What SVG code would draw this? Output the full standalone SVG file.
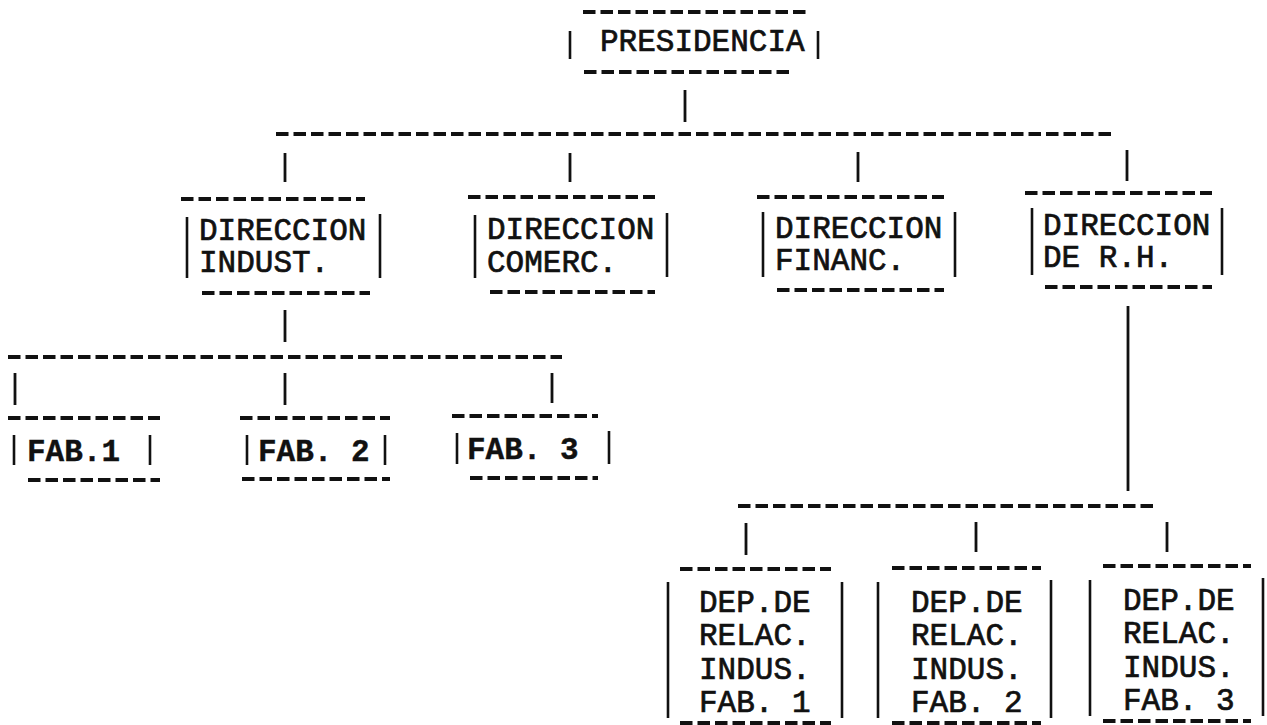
<svg xmlns="http://www.w3.org/2000/svg" width="1267" height="725" viewBox="0 0 1267 725">
<style>
.d{stroke:#111;stroke-width:3.8;stroke-dasharray:12.5 5;fill:none}
.p{stroke:#111;stroke-width:2.6;fill:none}
.c{stroke:#111;stroke-width:2.8;fill:none}
text{font-family:"Liberation Mono","Courier New",monospace;font-size:31px;fill:#111;stroke:#111;stroke-width:0.7}
.b{font-weight:bold;stroke-width:0.4}
</style>
<rect width="1267" height="725" fill="#fff"/>
<g id="connectors">
<line class="c" x1="685" y1="90" x2="685" y2="122"/>
<line class="d" x1="276" y1="134" x2="1116" y2="134"/>
<line class="c" x1="285" y1="153" x2="285" y2="182"/>
<line class="c" x1="570" y1="153" x2="570" y2="182"/>
<line class="c" x1="858" y1="152" x2="858" y2="182"/>
<line class="c" x1="1127" y1="150" x2="1127" y2="181"/>
<line class="c" x1="285" y1="310" x2="285" y2="342"/>
<line class="d" x1="8" y1="357" x2="562" y2="357"/>
<line class="c" x1="15" y1="373" x2="15" y2="405"/>
<line class="c" x1="285" y1="373" x2="285" y2="405"/>
<line class="c" x1="552" y1="373" x2="552" y2="403"/>
<line class="c" x1="1128" y1="306" x2="1128" y2="491"/>
<line class="d" x1="738" y1="506" x2="1157" y2="506"/>
<line class="c" x1="746" y1="523" x2="746" y2="555"/>
<line class="c" x1="976" y1="522" x2="976" y2="552"/>
<line class="c" x1="1167" y1="522" x2="1167" y2="552"/>
</g>
<g id="presidencia">
<line class="d" x1="583" y1="12" x2="807" y2="12"/>
<line class="p" x1="570" y1="31" x2="570" y2="59"/>
<line class="p" x1="818" y1="31" x2="818" y2="59"/>
<text x="600" y="51">PRESIDENCIA</text>
<line class="d" x1="584" y1="72" x2="790" y2="72"/>
</g>
<g id="dir-indust">
<line class="d" x1="181" y1="199" x2="365" y2="199"/>
<line class="p" x1="187" y1="217" x2="187" y2="278"/>
<line class="p" x1="380" y1="214" x2="380" y2="278"/>
<text x="199" y="240">DIRECCION</text>
<text x="199" y="272">INDUST.</text>
<line class="d" x1="202" y1="293" x2="370" y2="293"/>
</g>
<g id="dir-comerc">
<line class="d" x1="468" y1="197" x2="655" y2="197"/>
<line class="p" x1="475" y1="215" x2="475" y2="278"/>
<line class="p" x1="667" y1="213" x2="667" y2="277"/>
<text x="487" y="239">DIRECCION</text>
<text x="487" y="272">COMERC.</text>
<line class="d" x1="490" y1="292" x2="655" y2="292"/>
</g>
<g id="dir-financ">
<line class="d" x1="757" y1="197" x2="944" y2="197"/>
<line class="p" x1="763" y1="212" x2="763" y2="277"/>
<line class="p" x1="955" y1="212" x2="955" y2="277"/>
<text x="775" y="238">DIRECCION</text>
<text x="775" y="270">FINANC.</text>
<line class="d" x1="777" y1="290" x2="944" y2="290"/>
</g>
<g id="dir-rh">
<line class="d" x1="1025" y1="193" x2="1212" y2="193"/>
<line class="p" x1="1032" y1="208" x2="1032" y2="275"/>
<line class="p" x1="1222" y1="208" x2="1222" y2="275"/>
<text x="1043" y="235">DIRECCION</text>
<text x="1043" y="267">DE R.H.</text>
<line class="d" x1="1045" y1="287" x2="1212" y2="287"/>
</g>
<g id="fab1">
<line class="d" x1="8" y1="418" x2="160" y2="418"/>
<line class="p" x1="14" y1="435" x2="14" y2="465"/>
<line class="p" x1="150" y1="435" x2="150" y2="465"/>
<text class="b" x="27" y="461">FAB.1</text>
<line class="d" x1="28" y1="480" x2="160" y2="480"/>
</g>
<g id="fab2">
<line class="d" x1="240" y1="418" x2="390" y2="418"/>
<line class="p" x1="247" y1="435" x2="247" y2="465"/>
<line class="p" x1="385" y1="435" x2="385" y2="465"/>
<text class="b" x="258" y="461">FAB. 2</text>
<line class="d" x1="242" y1="479" x2="390" y2="479"/>
</g>
<g id="fab3">
<line class="d" x1="452" y1="416" x2="598" y2="416"/>
<line class="p" x1="457" y1="433" x2="457" y2="464"/>
<line class="p" x1="609" y1="431" x2="609" y2="464"/>
<text class="b" x="467" y="459">FAB. 3</text>
<line class="d" x1="470" y1="478" x2="598" y2="478"/>
</g>
<g id="dep1">
<line class="d" x1="680" y1="569" x2="831" y2="569"/>
<line class="p" x1="668" y1="582" x2="668" y2="718"/>
<line class="p" x1="842" y1="582" x2="842" y2="718"/>
<text x="699" y="612">DEP.DE</text>
<text x="699" y="645">RELAC.</text>
<text x="699" y="679">INDUS.</text>
<text x="699" y="712">FAB. 1</text>
<line class="d" x1="680" y1="723" x2="831" y2="723"/>
</g>
<g id="dep2">
<line class="d" x1="892" y1="568" x2="1041" y2="568"/>
<line class="p" x1="878" y1="582" x2="878" y2="718"/>
<line class="p" x1="1051" y1="580" x2="1051" y2="718"/>
<text x="911" y="612">DEP.DE</text>
<text x="911" y="645">RELAC.</text>
<text x="911" y="679">INDUS.</text>
<text x="911" y="712">FAB. 2</text>
<line class="d" x1="892" y1="723" x2="1041" y2="723"/>
</g>
<g id="dep3">
<line class="d" x1="1103" y1="566" x2="1251" y2="566"/>
<line class="p" x1="1090" y1="580" x2="1090" y2="716"/>
<line class="p" x1="1263" y1="578" x2="1263" y2="716"/>
<text x="1123" y="610">DEP.DE</text>
<text x="1123" y="643">RELAC.</text>
<text x="1123" y="677">INDUS.</text>
<text x="1123" y="710">FAB. 3</text>
<line class="d" x1="1103" y1="721" x2="1251" y2="721"/>
</g>
</svg>
